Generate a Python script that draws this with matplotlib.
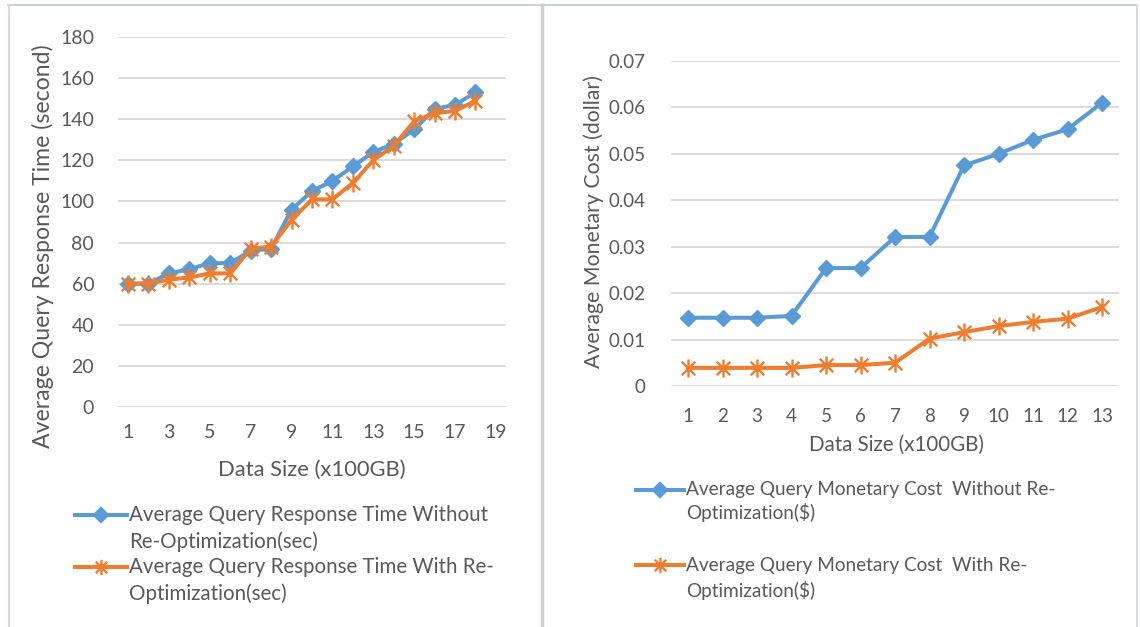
import matplotlib
matplotlib.use("Agg")
import matplotlib.pyplot as plt
from matplotlib.lines import Line2D
from matplotlib.path import Path

# ---------------- data ----------------
sizes_left = list(range(1, 19))
time_without = [60, 60, 65, 67, 70, 70, 76, 77, 96, 105, 110, 117, 124, 128, 135, 145, 147, 153]
time_with = [60, 60, 62, 63, 65, 65, 77, 78, 91, 101, 101, 109, 120, 127, 139, 143, 144, 149]
left_xticks = [1, 3, 5, 7, 9, 11, 13, 15, 17, 19]
left_yticks = [0, 20, 40, 60, 80, 100, 120, 140, 160, 180]

sizes_right = list(range(1, 14))
cost_without = [0.0147, 0.0147, 0.0147, 0.0151, 0.0254, 0.0254, 0.0321, 0.0321,
                0.0475, 0.0500, 0.0530, 0.0553, 0.0610]
cost_with = [0.0039, 0.0039, 0.0039, 0.0039, 0.0045, 0.0045, 0.0050, 0.0102,
             0.0116, 0.0129, 0.0138, 0.0145, 0.0170]
right_yticks = [0, 0.01, 0.02, 0.03, 0.04, 0.05, 0.06, 0.07]
right_yticklabels = ["0", "0.01", "0.02", "0.03", "0.04", "0.05", "0.06", "0.07"]

left_ylabel = "Average Query Response Time (second)"
right_ylabel = "Average Monetary Cost (dollar)"
xlabel = "Data Size (x100GB)"
left_labels = [("Average Query Response Time Without", "Re-Optimization(sec)"),
               ("Average Query Response Time With Re-", "Optimization(sec)")]
right_labels = [("Average Query Monetary Cost  Without Re-", "Optimization($)"),
                ("Average Query Monetary Cost  With Re-", "Optimization($)")]

# ---------------- style ----------------
plt.rcParams['font.family'] = ['Lato', 'DejaVu Sans']
BLUE = "#5B9BD5"
ORANGE = "#ED7D31"
TXT = "#595959"
GRID = "#D9D9D9"
W, H = 1140, 627
LW = 2.9

star = Path([(0, -1), (0, 1), (-0.75, -0.75), (0.75, 0.75), (-0.75, 0.75), (0.75, -0.75)],
            [Path.MOVETO, Path.LINETO, Path.MOVETO, Path.LINETO, Path.MOVETO, Path.LINETO])

fig = plt.figure(figsize=(W / 100, H / 100), dpi=100)
fig.patch.set_facecolor("white")


def fx(px):
    return px / W


def fy(py):
    return 1 - py / H


# panel borders
fig.add_artist(Line2D([fx(8), fx(1137)], [fy(4.5), fy(4.5)], color="#C9D1E0", lw=1.5))
fig.add_artist(Line2D([fx(9), fx(9)], [fy(4.5), fy(627)], color="#D5DAE3", lw=1.5))
fig.add_artist(Line2D([fx(542), fx(542)], [fy(4.5), fy(627)], color="#D0D0D0", lw=2.5))
fig.add_artist(Line2D([fx(1137), fx(1137)], [fy(4.5), fy(627)], color="#D5DAE3", lw=1.5))


def style_axes(ax, fs):
    for s in ax.spines.values():
        s.set_visible(False)
    ax.grid(axis='y', color=GRID, lw=1.3)
    ax.set_axisbelow(True)
    ax.tick_params(length=0, colors=TXT, labelsize=fs)
    for lab in ax.get_xticklabels() + ax.get_yticklabels():
        lab.set_color(TXT)


# ---------------- left chart ----------------
axL = fig.add_axes([0.1033, 0.3509, 0.3407, 0.5901])
axL.plot(sizes_left, time_without, color=BLUE, lw=LW, marker='D', ms=8.5,
         mec=BLUE, mfc=BLUE, zorder=3)
axL.plot(sizes_left, time_with, color=ORANGE, lw=LW, marker=star, ms=13,
         mec=ORANGE, mew=1.7, zorder=4)
axL.set_xlim(0.5, 19.5)
axL.set_ylim(0, 180)
axL.set_xticks(left_xticks)
axL.set_yticks(left_yticks)
style_axes(axL, 14)
axL.tick_params(axis='y', pad=17)
axL.tick_params(axis='x', pad=12)
fig.text(fx(312), fy(470), xlabel, ha='center', va='center', fontsize=15.8, color=TXT)
fig.text(fx(43), fy(246), left_ylabel, ha='center', va='center', rotation=90,
         fontsize=16.6, color=TXT)

# ---------------- right chart ----------------
axR = fig.add_axes([0.5884, 0.3844, 0.3934, 0.5183])
axR.plot(sizes_right, cost_without, color=BLUE, lw=LW, marker='D', ms=8.5,
         mec=BLUE, mfc=BLUE, zorder=3)
axR.plot(sizes_right, cost_with, color=ORANGE, lw=LW, marker=star, ms=13,
         mec=ORANGE, mew=1.7, zorder=4)
axR.set_xlim(0.5, 13.5)
axR.set_ylim(0, 0.07)
axR.set_xticks(sizes_right)
axR.set_yticks(right_yticks)
axR.set_yticklabels(right_yticklabels)
style_axes(axR, 13.5)
axR.tick_params(axis='y', pad=18)
axR.tick_params(axis='x', pad=16)
fig.text(fx(896), fy(445), xlabel, ha='center', va='center', fontsize=14.8, color=TXT)
fig.text(fx(594), fy(222), right_ylabel, ha='center', va='center', rotation=90,
         fontsize=15.3, color=TXT)


# ---------------- legends (drawn manually) ----------------
def legend_entry(x0, x1, y, y2, color, marker, ms, lines, fs):
    fig.add_artist(Line2D([fx(x0), fx(x1)], [fy(y), fy(y)], color=color, lw=LW))
    fig.add_artist(Line2D([fx((x0 + x1) / 2)], [fy(y)], color=color, marker=marker,
                          ms=ms, mec=color, mfc=color, mew=1.7, lw=0))
    fig.text(fx(x1 + 2), fy(y), lines[0], ha='left', va='center', fontsize=fs, color=TXT)
    fig.text(fx(x1 + 2), fy(y2), lines[1], ha='left', va='center', fontsize=fs, color=TXT)


legend_entry(75, 127, 515, 542, BLUE, 'D', 7, left_labels[0], 14.8)
legend_entry(75, 127, 567, 594, ORANGE, star, 11, left_labels[1], 14.8)
legend_entry(636, 684, 490, 513, BLUE, 'D', 7, right_labels[0], 13.7)
legend_entry(636, 684, 565, 590, ORANGE, star, 11, right_labels[1], 13.7)

fig.savefig("out.png", dpi=100, facecolor="white")
